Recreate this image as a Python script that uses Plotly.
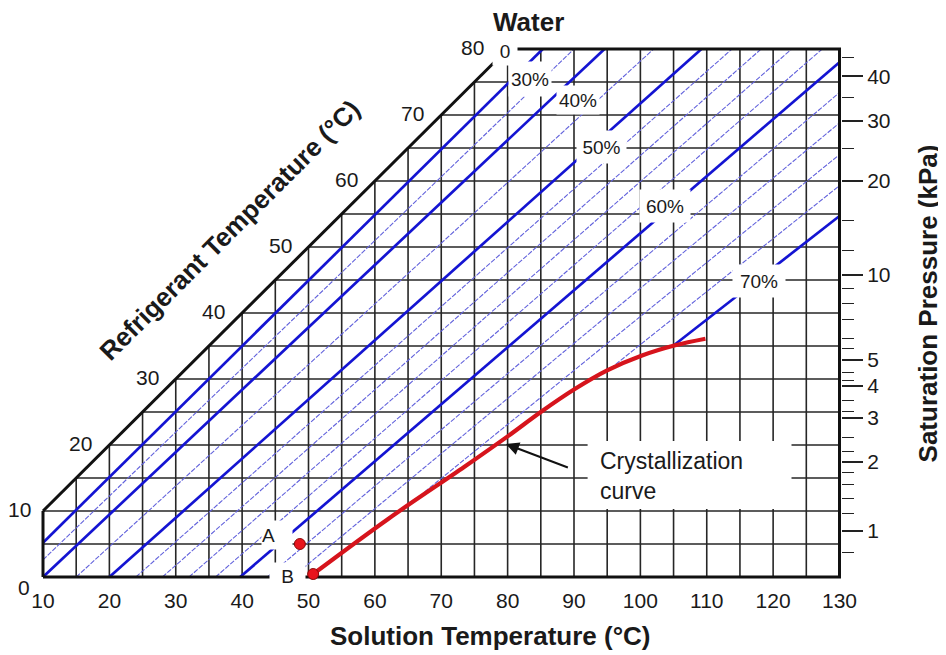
import plotly.graph_objects as go

# ---------------- data ----------------
# axis ticks
sol_ticks = [10, 20, 30, 40, 50, 60, 70, 80, 90, 100, 110, 120, 130]
ref_ticks = [0, 10, 20, 30, 40, 50, 60, 70, 80]
grid_ref = [5, 10, 15, 20, 25, 30, 35, 40, 45, 50, 55, 60, 65, 70, 75]
grid_sol = [15, 20, 25, 30, 35, 40, 45, 50, 55, 60, 65, 70, 75, 80, 85,
            90, 95, 100, 105, 110, 115, 120, 125]

# right axis: saturation pressure (kPa) and the refrigerant temperature (°C) it sits at
p_major = [1, 2, 3, 4, 5, 10, 20, 30, 40]
p_major_tsat = [6.97, 17.50, 24.08, 28.96, 32.88, 45.81, 60.06, 69.10, 75.86]
p_minor = [0.8, 1.2, 1.4, 1.6, 1.8, 2.2, 2.5, 3.2, 3.5, 4.2, 4.5, 5.5, 6, 7, 8, 9, 12, 15, 25, 35, 45]
p_minor_tsat = [3.76, 9.65, 11.97, 13.99, 15.79, 19.0, 21.08, 25.1, 26.67, 29.8, 30.99,
                34.6, 36.16, 39.0, 41.51, 43.76, 49.4, 53.97, 64.97, 72.68, 78.7]

# pure water line (0 %)
water_tsol = [10, 80]
water_tref = [10, 80]

# labelled concentration lines (LiBr %, thick)
thick_conc = [30, 40, 50, 60, 70]
thick_tsol_start = [10, 10, 20, 39.7, 104.9]
thick_tref_start = [5.2, 0, 0, 0, 35.0]
thick_tsol_end = [85.3, 94.6, 109.2, 130, 130]
thick_tref_end = [80, 80, 80, 78.0, 54.7]

# intermediate concentration lines (thin)
thin_conc = [35, 45, 52, 54, 56, 58, 62, 64, 66, 68]
thin_tsol_start = [10, 15, 24, 28, 32, 36, 43.8, 47.6, 67.5, 95.5]
thin_tref_start = [2.6, 0, 0, 0, 0, 0, 0, 0, 12.9, 31.6]
thin_tsol_end = [90.0, 102.0, 113.8, 118.2, 122.8, 127.4, 130, 130, 130, 130]
thin_tref_end = [80, 80, 80, 80, 80, 80, 73.4, 68.8, 64.0, 59.3]

# crystallization curve
cryst_tsol = [50.7, 62.0, 73.5, 80, 85, 90, 95, 100.25, 105.25, 109.8]
cryst_tref = [0.45, 8.8, 16.7, 21.3, 25.0, 28.4, 31.3, 33.55, 35.1, 36.1]

# state points
pt_labels = ["A", "B"]
pt_tsol = [48.7, 50.7]
pt_tref = [5.0, 0.45]

# ---------------- figure ----------------
FONT = "Liberation Sans, Arial, sans-serif"
TXT = "#1a1a1a"
SX = 797 / 120.0   # px per degree (solution)
SY = 528 / 80.0    # px per degree (refrigerant)

# the page body has an 8px margin: size the figure so that it fits the window
OFF = 8
FIG_W, FIG_H = 946 - OFF, 655 - OFF
P_LEFT, P_RIGHT, P_TOP, P_BOTTOM = 40, 841.5, 46, 580      # plot area in window pixels
PW, PH = P_RIGHT - P_LEFT, P_BOTTOM - P_TOP


def px(xw):
    return (xw - P_LEFT) / PW


def py(yw):
    return (P_BOTTOM - yw) / PH


fig = go.Figure()


def seg_trace(xs, ys, color, width, dash="solid"):
    fig.add_trace(go.Scatter(x=xs, y=ys, mode="lines",
                             line=dict(color=color, width=width, dash=dash),
                             hoverinfo="skip", showlegend=False))


# grid (only below the water line)
gx, gy = [], []
for t in grid_ref:
    gx += [max(t, sol_ticks[0]), sol_ticks[-1], None]
    gy += [t, t, None]
for s in grid_sol:
    gx += [s, s, None]
    gy += [ref_ticks[0], min(s, ref_ticks[-1]), None]
seg_trace(gx, gy, "#262626", 1.6)

# thin concentration lines
tx, ty = [], []
for i in range(len(thin_conc)):
    tx += [thin_tsol_start[i], thin_tsol_end[i], None]
    ty += [thin_tref_start[i], thin_tref_end[i], None]
seg_trace(tx, ty, "#6262dc", 1.1, dash="5px,1.5px")

# thick concentration lines
kx, ky = [], []
for i in range(len(thick_conc)):
    kx += [thick_tsol_start[i], thick_tsol_end[i], None]
    ky += [thick_tref_start[i], thick_tref_end[i], None]
seg_trace(kx, ky, "#1414d2", 2.7)

# chart frame
bx = [sol_ticks[0], sol_ticks[-1], sol_ticks[-1], water_tsol[-1], None,
      sol_ticks[0], sol_ticks[0]]
by = [ref_ticks[0], ref_ticks[0], ref_ticks[-1], ref_ticks[-1], None,
      ref_ticks[0], water_tref[0]]
seg_trace(bx, by, "#111111", 3)
seg_trace(water_tsol, water_tref, "#111111", 3)

# crystallization curve
fig.add_trace(go.Scatter(x=cryst_tsol, y=cryst_tref, mode="lines",
                         line=dict(color="#d6141c", width=4.2, shape="spline", smoothing=1.0),
                         hoverinfo="skip", showlegend=False))

# state points
fig.add_trace(go.Scatter(x=pt_tsol, y=pt_tref, mode="markers",
                         marker=dict(size=11, color="#e8141c", line=dict(color="#8a0a0a", width=1)),
                         hoverinfo="skip", showlegend=False))

# invisible trace so that the pressure axis is drawn
fig.add_trace(go.Scatter(x=[sol_ticks[-1]], y=[p_major_tsat[0]], yaxis="y2", mode="markers",
                         marker=dict(opacity=0), hoverinfo="skip", showlegend=False))

x_range = [sol_ticks[0] - 3 / SX, sol_ticks[-1] + 1.5 / SX]
y_range = [ref_ticks[0] - 3 / SY, ref_ticks[-1] + 3 / SY]

fig.update_layout(
    width=FIG_W, height=FIG_H,
    margin=dict(l=P_LEFT - OFF, r=FIG_W - (P_RIGHT - OFF), t=P_TOP - OFF,
                b=FIG_H - (P_BOTTOM - OFF), autoexpand=False),
    paper_bgcolor="white", plot_bgcolor="white",
    font=dict(family=FONT, color=TXT),
    xaxis=dict(range=x_range, tickmode="array", tickvals=sol_ticks,
               ticktext=[str(v) for v in sol_ticks],
               showgrid=False, zeroline=False, showline=False, ticks="",
               ticklabelstandoff=6, tickfont=dict(size=21, family=FONT, color=TXT)),
    yaxis=dict(range=y_range, showgrid=False, zeroline=False, showline=False,
               showticklabels=False, ticks=""),
    yaxis2=dict(range=y_range, overlaying="y", side="right", tickmode="array",
                tickvals=p_major_tsat, ticktext=[str(p) for p in p_major],
                ticks="outside", ticklen=21, tickwidth=1.6, tickcolor="#222",
                showgrid=False, zeroline=False, showline=False,
                tickfont=dict(size=21, family=FONT, color=TXT),
                minor=dict(tickmode="array", tickvals=p_minor_tsat, ticks="outside",
                           ticklen=12, tickwidth=1.4, tickcolor="#222", showgrid=False)),
)

ann = []
# refrigerant temperature labels along the water line
for t in ref_ticks:
    if t == 0:
        ann.append(dict(x=sol_ticks[0], y=t, text=str(t), xanchor="right", yanchor="middle",
                        xshift=-11, yshift=-10, showarrow=False, font=dict(size=21)))
    else:
        shift = -22 if t == 80 else (-10 if t == 10 else -15)
        ann.append(dict(x=t, y=t, text=str(t), xanchor="right", yanchor="middle",
                        xshift=shift, yshift=2, showarrow=False, font=dict(size=21)))

# concentration labels on white boxes
box_font = dict(size=19, family=FONT, color=TXT)
ann += [
    dict(x=79.56, y=79.62, text="0", width=24, height=27, bgcolor="white", borderpad=0,
         showarrow=False, font=box_font),
    dict(x=83.4, y=75.45, text="30%", width=42, height=34, bgcolor="white", borderpad=0,
         showarrow=False, font=box_font),
    dict(x=90.6, y=72.2, text="40%", width=42, height=28, bgcolor="white", borderpad=0,
         showarrow=False, font=box_font),
    dict(x=94.09, y=65.15, text="50%", width=49, height=32, bgcolor="white", borderpad=0,
         showarrow=False, font=box_font),
    dict(x=103.65, y=56.21, text="60%", width=50, height=32, bgcolor="white", borderpad=0,
         showarrow=False, font=box_font),
    dict(x=117.8, y=44.85, text="70%", width=52, height=32, bgcolor="white", borderpad=0,
         showarrow=False, font=box_font),
    dict(x=45.23, y=6.3, text=pt_labels[0], width=30, height=28, bgcolor="white", borderpad=0,
         align="left", showarrow=False, font=box_font),
    dict(x=46.81, y=0.08, text=pt_labels[1], width=35, height=27, bgcolor="white", borderpad=0,
         showarrow=False, font=box_font),
]

# crystallization annotation
ann.append(dict(x=93.56, y=15.3, text="Crystallization<br>curve", xanchor="left",
                yanchor="middle", align="left", showarrow=False,
                font=dict(size=23, family=FONT, color=TXT)))
ann.append(dict(x=79.75, y=20.15, ax=89.3, ay=16.5, axref="x", ayref="y", text="",
                showarrow=True, arrowhead=2, arrowsize=1.3, arrowwidth=2,
                arrowcolor="#111", standoff=0))

# titles
title_font = dict(size=26, family=FONT, color=TXT)
ann += [
    dict(xref="paper", yref="paper", x=px(529), y=py(22), xanchor="center", yanchor="middle",
         text="<b>Water</b>", showarrow=False, font=title_font),
    dict(x=38.15, y=52.6, text="<b>Refrigerant Temperature (°C)</b>", textangle=-45,
         xanchor="center", yanchor="middle", showarrow=False, font=title_font),
    dict(xref="paper", yref="paper", x=px(490), y=py(636), xanchor="center", yanchor="middle",
         text="<b>Solution Temperature (°C)</b>", showarrow=False, font=title_font),
    dict(xref="paper", yref="paper", x=px(929), y=py(303), xanchor="center", yanchor="middle",
         text="<b>Saturation Pressure (kPa)</b>", textangle=-90, showarrow=False,
         font=title_font),
]
fig.update_layout(annotations=ann)

# white panel behind the crystallization text
fig.add_shape(type="rect", xref="x", yref="y", x0=92.05, x1=122.77, y0=10.3, y1=20.6,
              fillcolor="white", line=dict(width=0), layer="above")

fig.write_html("out.html")
